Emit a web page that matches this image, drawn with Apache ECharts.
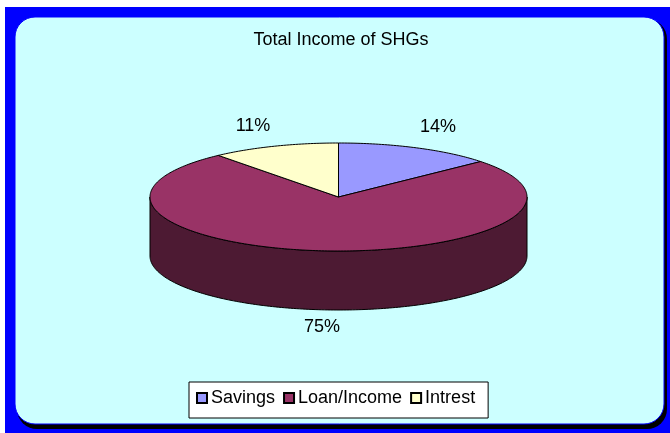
<!DOCTYPE html>
<html>
<head>
<meta charset="utf-8">
<style>
  html, body { margin: 0; padding: 0; background: #fff; }
  #main { width: 670px; height: 433px; }
</style>
<script src="https://cdn.jsdelivr.net/npm/echarts@6/dist/echarts.min.js"></script>
</head>
<body>
<div id="main"></div>
<script>
var categories = ['Savings', 'Loan/Income', 'Intrest'];
var shares = [13.6, 75.4, 11];
var topColors = ['#9999FF', '#993366', '#FFFFCC'];
var sideColors = ['#4D4D80', '#4D1A33', '#808066'];

// pie geometry, the chart tool squashes a circle into this ellipse
var cx = 338.5, cy = 197, rx = 188.5, ry = 54, depth = 59;
var labelSpots = [[438, 127], [322, 327], [253, 126]];
var font = '"Liberation Sans", Arial, sans-serif';

function ring(from, to, dy) {
  var pts = [];
  var steps = Math.max(2, Math.ceil((to - from) * 60));
  for (var i = 0; i <= steps; i++) {
    var a = from + (to - from) * i / steps;
    pts.push([cx + rx * Math.sin(a), cy + dy - ry * Math.cos(a)]);
  }
  return pts;
}

function renderSlice(idx) {
  return function (params, api) {
    var total = shares.reduce(function (s, v) { return s + v; }, 0);
    var before = shares.slice(0, idx).reduce(function (s, v) { return s + v; }, 0);
    var from = before / total * Math.PI * 2;
    var to = from + api.value(0) / total * Math.PI * 2;
    var children = [];

    // only the part facing us (90 to 270 deg) gets a side wall
    var wallFrom = Math.max(from, Math.PI / 2);
    var wallTo = Math.min(to, Math.PI * 3 / 2);
    if (wallTo > wallFrom) {
      children.push({
        type: 'polygon',
        shape: { points: ring(wallFrom, wallTo, 0).concat(ring(wallFrom, wallTo, depth).reverse()) },
        style: { fill: sideColors[idx], stroke: '#000', lineWidth: 1 }
      });
    }
    children.push({
      type: 'polygon',
      shape: { points: [[cx, cy]].concat(ring(from, to, 0)) },
      style: { fill: topColors[idx], stroke: '#000', lineWidth: 1 }
    });
    children.push({
      type: 'text',
      style: {
        text: Math.round(api.value(0)) + '%',
        x: labelSpots[idx][0], y: labelSpots[idx][1],
        align: 'center', verticalAlign: 'middle',
        fill: '#000', font: '18px ' + font
      }
    });
    return { type: 'group', children: children };
  };
}

var myChart = echarts.init(document.getElementById('main'), null, { renderer: 'canvas' });
myChart.setOption({
  animation: false,
  backgroundColor: '#fff',
  graphic: [
    { type: 'rect', z: -3, shape: { x: 5, y: 7, width: 665, height: 426 }, style: { fill: '#0000FF' } },
    { type: 'rect', z: -2, shape: { x: 17, y: 19, width: 650, height: 410, r: 20 }, style: { fill: '#000' } },
    { type: 'rect', z: -1, shape: { x: 15, y: 17, width: 649, height: 407, r: 20 }, style: { fill: '#CCFFFF', stroke: '#0000FF', lineWidth: 1 } }
  ],
  title: {
    text: 'Total Income of SHGs',
    left: 336, top: 26, textAlign: 'center',
    textStyle: { fontFamily: font, fontSize: 18, fontWeight: 'normal', color: '#000' }
  },
  legend: {
    left: 189, top: 382,
    padding: [7, 13, 11, 7],
    itemWidth: 10, itemHeight: 10, itemGap: 8,
    backgroundColor: '#fff', borderColor: '#000', borderWidth: 1,
    icon: 'rect',
    data: categories,
    textStyle: { fontFamily: font, fontSize: 18, color: '#000', padding: [0, 0, 6, -1] }
  },
  series: categories.map(function (name, i) {
    return {
      type: 'custom',
      name: name,
      coordinateSystem: 'none',
      itemStyle: { color: topColors[i], borderColor: '#000', borderWidth: 1 },
      renderItem: renderSlice(i),
      data: [[shares[i]]]
    };
  })
});
</script>
</body>
</html>
